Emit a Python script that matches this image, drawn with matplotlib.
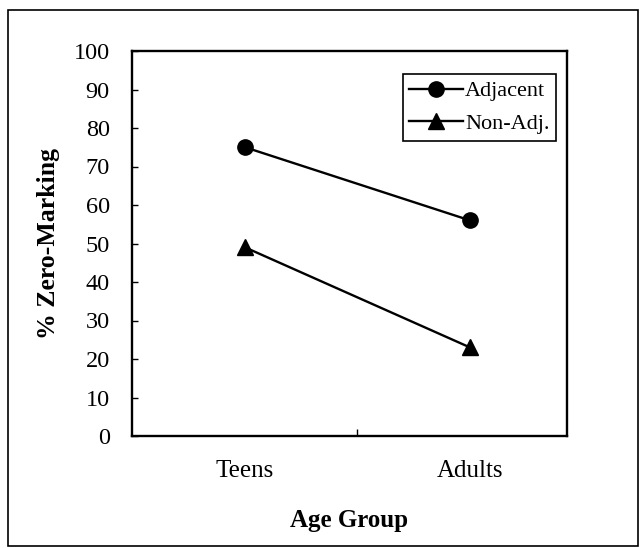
import matplotlib

matplotlib.use("Agg")
import matplotlib.pyplot as plt
from matplotlib.patches import Rectangle

# ── Data ───────────────────────────────────────────────────────────────────
GROUPS = ["Teens", "Adults"]
ADJACENT = [75, 56]
NON_ADJ = [49, 23]
Y_TICKS = list(range(0, 101, 10))

plt.rcParams["font.family"] = ["Liberation Serif", "DejaVu Serif"]


def main() -> None:
    fig = plt.figure(figsize=(6.42, 5.48), dpi=100)
    ax = fig.add_axes([132 / 642, 1 - 436 / 548, 435 / 642, 385 / 548])

    xs = list(range(len(GROUPS)))
    ax.plot(xs, ADJACENT, color="black", linewidth=1.7, marker="o",
            markersize=11, label="Adjacent")
    ax.plot(xs, NON_ADJ, color="black", linewidth=1.7, marker="^",
            markersize=12, label="Non-Adj.")

    ax.set_xlim(-0.502, 1.431)
    ax.set_ylim(0, 100)
    ax.set_yticks(Y_TICKS)
    ax.tick_params(axis="y", direction="in", length=4, width=1,
                   labelsize=17.5, pad=16)
    # single category-separator tick on the x axis
    ax.set_xticks([0.5])
    ax.set_xticklabels([""])
    ax.tick_params(axis="x", direction="in", length=5, width=1)
    for sp in ax.spines.values():
        sp.set_linewidth(1.7)

    for x, name in zip(xs, GROUPS):
        ax.text(x, -9.2, name, ha="center", va="center", fontsize=18,
                clip_on=False)

    ax.set_xlabel("Age Group", fontsize=18, fontweight="bold", labelpad=49)
    ax.set_ylabel("% Zero-Marking", fontsize=18.5, fontweight="bold",
                  labelpad=10)

    leg = ax.legend(loc="upper right", bbox_to_anchor=(0.975, 0.94),
                    fontsize=16, frameon=True, fancybox=False,
                    edgecolor="black", framealpha=1, handlelength=2.4,
                    handletextpad=0.1, borderpad=0.3, labelspacing=0.55,
                    borderaxespad=0)
    leg.get_frame().set_linewidth(1.2)

    # outer frame around the whole figure
    fig.patches.append(Rectangle((8 / 642, 2 / 548), 630 / 642, 536 / 548,
                                 transform=fig.transFigure, fill=False,
                                 edgecolor="black", linewidth=1.2))

    fig.savefig("out.png", dpi=100)
    plt.close(fig)


if __name__ == "__main__":
    main()
